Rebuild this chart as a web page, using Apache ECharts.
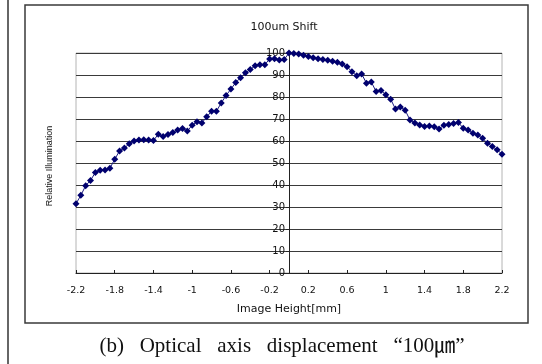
<!DOCTYPE html>
<html>
<head>
<meta charset="utf-8">
<script src="https://cdn.jsdelivr.net/npm/echarts@6/dist/echarts.min.js"></script>
<style>
  html, body { margin: 0; padding: 0; background: #fff; }
  #chart { width: 542px; height: 364px; }
</style>
</head>
<body>
<div id="chart"></div>
<script>
// Image height positions [mm], one sample every 0.05 mm
const imageHeight = [
  -2.2, -2.15, -2.1, -2.05, -2.0, -1.95, -1.9, -1.85, -1.8, -1.75,
  -1.7, -1.65, -1.6, -1.55, -1.5, -1.45, -1.4, -1.35, -1.3, -1.25,
  -1.2, -1.15, -1.1, -1.05, -1.0, -0.95, -0.9, -0.85, -0.8, -0.75,
  -0.7, -0.65, -0.6, -0.55, -0.5, -0.45, -0.4, -0.35, -0.3, -0.25,
  -0.2, -0.15, -0.1, -0.05,
  0.0, 0.05, 0.1, 0.15, 0.2, 0.25, 0.3, 0.35, 0.4, 0.45,
  0.5, 0.55, 0.6, 0.65, 0.7, 0.75, 0.8, 0.85, 0.9, 0.95,
  1.0, 1.05, 1.1, 1.15, 1.2, 1.25, 1.3, 1.35, 1.4, 1.45,
  1.5, 1.55, 1.6, 1.65, 1.7, 1.75, 1.8, 1.85, 1.9, 1.95,
  2.0, 2.05, 2.1, 2.15, 2.2
];

// Relative illumination [%] at each image height
const relativeIllumination = [
  31.5, 35.3, 39.7, 42.1, 45.7, 46.7, 46.8, 47.6, 51.7, 55.5,
  56.8, 58.8, 60.0, 60.5, 60.6, 60.5, 60.2, 63.1, 62.0, 63.0,
  63.9, 65.0, 65.7, 64.5, 67.2, 68.7, 68.2, 71.0, 73.5, 73.5,
  77.3, 80.7, 83.6, 86.6, 88.8, 91.0, 92.5, 94.2, 94.7, 94.7,
  97.3, 97.4, 96.8, 97.0,
  100.0, 99.8, 99.6, 99.0, 98.4, 97.8, 97.4, 97.0, 96.7, 96.2,
  95.8, 95.0, 93.8, 91.5, 89.7, 90.5, 86.3, 86.8, 82.5, 83.0,
  81.0, 79.0, 74.5, 75.5, 74.0, 69.5, 68.2, 67.3, 66.6, 66.8,
  66.5, 65.5, 67.2, 67.5, 68.0, 68.4, 65.8, 65.0, 63.5, 62.7,
  61.2, 59.0, 57.5, 56.0, 54.0
];

// Labelled positions along the image-height axis
const xTickLabels = [-2.2, -1.8, -1.4, -1.0, -0.6, -0.2, 0.2, 0.6, 1.0, 1.4, 1.8, 2.2];

const chartTitle = '100um Shift';
const xAxisName = 'Image Height[mm]';
const yAxisName = 'Relative Illumination';
const caption = '(b)   Optical   axis   displacement   \u201c100\u339b\u201d';

// Plot rectangle (pixels)
const gridLeft = 76, gridRight = 40, gridTop = 53, gridBottom = 91;
const xMin = -2.2, xMax = 2.2;
const plotWidth = 542 - gridLeft - gridRight;
// shift the value axis so that it stands on image height 0
const yAxisShift = plotWidth * (0 - xMin) / (xMax - xMin);

const chart = echarts.init(document.getElementById('chart'), null, { renderer: 'canvas' });

const labelFont = 'DejaVu Sans, sans-serif';

chart.setOption({
  animation: false,
  backgroundColor: '#fff',
  title: {
    text: chartTitle,
    left: 279,
    top: 17,
    textAlign: 'center',
    textStyle: { fontFamily: labelFont, fontSize: 11, fontWeight: 'normal', color: '#111' }
  },
  grid: {
    left: gridLeft, right: gridRight, top: gridTop, bottom: gridBottom,
    show: true, borderColor: '#b4b4b4', borderWidth: 1, backgroundColor: 'transparent'
  },
  xAxis: {
    type: 'value',
    min: xMin,
    max: xMax,
    name: xAxisName,
    nameLocation: 'middle',
    nameGap: 31,
    nameTextStyle: { fontFamily: labelFont, fontSize: 11, color: '#111' },
    axisLine: { onZero: false, lineStyle: { color: '#222', width: 1 } },
    axisTick: { show: true, inside: true, length: 3, customValues: xTickLabels, lineStyle: { color: '#222' } },
    axisLabel: {
      customValues: xTickLabels,
      margin: 13,
      fontFamily: labelFont, fontSize: 9.5, color: '#111',
      formatter: v => String(Math.round(v * 10) / 10)
    },
    splitLine: { show: false }
  },
  yAxis: {
    type: 'value',
    min: 0,
    max: 100,
    interval: 10,
    offset: -yAxisShift,
    axisLine: { show: true, onZero: false, lineStyle: { color: '#222', width: 1 } },
    axisTick: { show: true, length: 3, lineStyle: { color: '#222' } },
    axisLabel: { margin: 4, fontFamily: labelFont, fontSize: 10, color: '#111' },
    splitLine: { show: true, lineStyle: { color: '#3a3a3a', width: 1 } }
  },
  series: [{
    type: 'line',
    data: imageHeight.map((x, i) => [x, relativeIllumination[i]]),
    symbol: 'diamond',
    symbolSize: 7,
    showAllSymbol: true,
    itemStyle: { color: '#00006e' },
    lineStyle: { color: '#1a1a80', width: 1 },
    z: 5
  }],
  graphic: [
    {
      type: 'line',
      shape: { x1: 8, y1: 0, x2: 8, y2: 364 },
      style: { stroke: '#333', lineWidth: 1.5 },
      silent: true
    },
    {
      type: 'rect',
      shape: { x: 25, y: 5, width: 503, height: 318 },
      style: { fill: 'none', stroke: '#3a3a3a', lineWidth: 1.5 },
      silent: true
    },
    {
      type: 'text',
      x: 50,
      y: 166,
      rotation: Math.PI / 2,
      style: {
        text: yAxisName,
        fontFamily: 'Liberation Sans, sans-serif',
        fontSize: 9,
        fill: '#111',
        align: 'center',
        verticalAlign: 'middle'
      },
      silent: true
    },
    {
      type: 'text',
      x: 282,
      y: 346,
      style: {
        text: caption,
        fontFamily: 'Liberation Serif, Noto Sans CJK KR, serif',
        fontSize: 21,
        fill: '#111',
        align: 'center',
        verticalAlign: 'middle'
      },
      silent: true
    }
  ]
});
</script>
</body>
</html>
